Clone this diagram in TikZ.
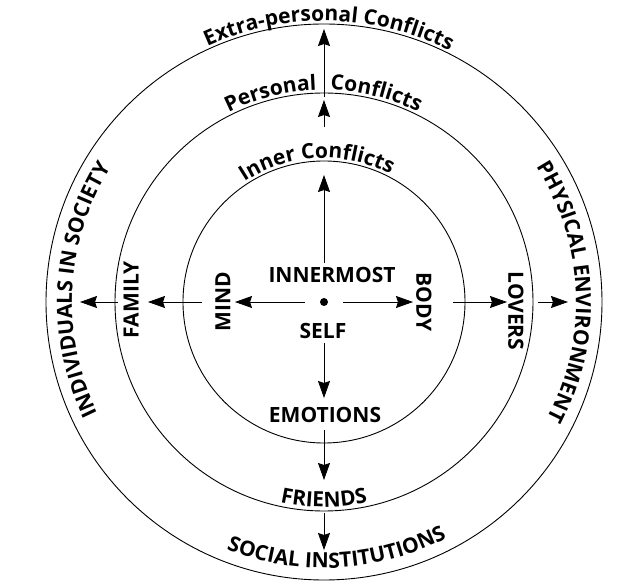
\documentclass[tikz,border=0pt]{standalone}
\usepackage{fontspec}
\setmainfont{Open Sans}
\usetikzlibrary{arrows.meta,decorations.text}
\newcommand\lblfont{\bfseries\fontsize{21}{25}\selectfont}
\newcommand\arclabel[5][center]{\path[decorate,decoration={text along path,text align=#1,text={|\lblfont|#5}}] (#3:#2) arc[start angle=#3,end angle=#4,radius=#2];}
\begin{document}
\begin{tikzpicture}[x=1pt,y=1pt,
  ring/.style={line width=0.9pt},
  arr/.style={line width=0.8pt,-{Stealth[length=17pt,width=12pt,inset=2pt]}},
  lbl/.style={font=\lblfont,inner sep=0pt},
]
\useasboundingbox (-324,-284) rectangle (316,302);
% rings
\draw[ring] (0,0) circle[radius=278];
\draw[ring] (0,0) circle[radius=209];
\draw[ring] (0,0) circle[radius=141];
% centre
\node[circle,fill,inner sep=0pt,minimum size=8pt] (dot) at (0,0) {};
\node[lbl] (innermost) at (8,27) {INNERMOST};
\node[lbl] (self) at (-1,-29) {SELF};
\node[lbl] (emotions) at (1,-113) {EMOTIONS};
\node[lbl,rotate=90] (mind) at (-101,0) {MIND};
\node[lbl,rotate=-90] (body) at (100,0) {BODY};
\node[lbl,rotate=90] (family) at (-193,2) {FAMILY};
\node[lbl,rotate=-90] (lovers) at (192,-9) {LOVERS};
% curved labels
\arclabel{281}{149}{29}{Extra-personal Conflicts}
\arclabel[right]{212}{150}{92}{Personal}
\arclabel[left]{212}{88.3}{30}{Conflicts}
\arclabel{144}{153}{33}{Inner Conflicts}
\arclabel{266}{213}{333}{SOCIAL INSTITUTIONS}
\arclabel{205}{210}{330}{FRIENDS}
\arclabel{252}{237}{117}{INDIVIDUALS IN SOCIETY}
\arclabel{252}{62.5}{-57.5}{PHYSICAL ENVIRONMENT}
% arrow end points
\coordinate (u1a) at (0,39);   \coordinate (u1b) at (0,127);
\coordinate (u2a) at (0,175);  \coordinate (u2b) at (0,202);
\coordinate (u3a) at (0,205);  \coordinate (u3b) at (0,273);
\coordinate (d1a) at (0,-41);  \coordinate (d1b) at (0,-96);
\coordinate (d2a) at (0,-128); \coordinate (d2b) at (0,-178);
\coordinate (d3a) at (0,-211); \coordinate (d3b) at (0,-248);
\coordinate (l1a) at (-19,0);  \coordinate (l1b) at (-89,0);
\coordinate (l2a) at (-122,0); \coordinate (l2b) at (-176,0);
\coordinate (l3a) at (-206,0); \coordinate (l3b) at (-244,0);
\coordinate (r1a) at (19,0);   \coordinate (r1b) at (89,0);
\coordinate (r2a) at (129,0);  \coordinate (r2b) at (183,0);
\coordinate (r3a) at (214,0);  \coordinate (r3b) at (244,0);
\foreach \a in {u1,u2,u3,d1,d2,d3,l1,l2,l3,r1,r2,r3}
  \draw[arr] (\a a) -- (\a b);
\end{tikzpicture}
\end{document}
